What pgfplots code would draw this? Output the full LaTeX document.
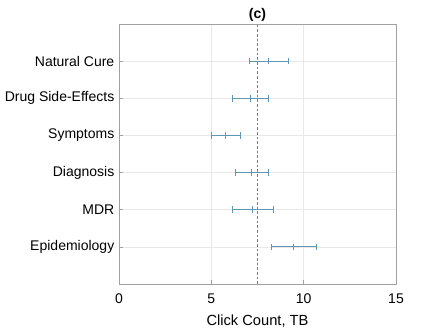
\documentclass[border=0pt]{standalone}
\usepackage{pgfplots}
\pgfplotsset{compat=1.18}
\usepackage{fontspec}
\setmainfont{Liberation Sans}
\definecolor{EB}{RGB}{95,150,180}
\definecolor{AX}{RGB}{160,160,160}
\definecolor{refmag}{RGB}{230,50,230}
\begin{document}
\begin{tikzpicture}
\path[use as bounding box] (-89.25pt,-33pt) rectangle (239.25pt,213pt);
\begin{axis}[
  at={(0,0)}, anchor=south west,
  scale only axis, width=207.75pt, height=195pt,
  xmin=0, xmax=15, ymin=0, ymax=7,
  xtick={0,5,10,15},
  ytick={1,2,3,4,5,6},
  yticklabels={Epidemiology,MDR,Diagnosis,Symptoms,Drug Side-Effects,Natural Cure},
  xlabel={Click Count, TB},
  title={\bfseries (c)},
  title style={font=\fontsize{10.5}{12}\selectfont, yshift=-7.5pt},
  ticklabel style={font=\fontsize{10.5}{12}\selectfont},
  xticklabel style={yshift=-4pt},
  label style={font=\fontsize{11}{13}\selectfont},
  /pgf/number format/assume math mode=true,
  xlabel style={yshift=-1pt},
  axis line style={AX, line width=0.7pt},
  tick style={AX, line width=0.5pt},
  major tick length=3pt,
  tick align=inside,
  xtick pos=bottom, ytick pos=left,
  grid=major, grid style={draw=gray!18, line width=0.4pt},
]
\addplot[refmag, line width=0.7pt, dash pattern=on 2pt off 1.5pt, mark=none, forget plot] coordinates {(7.5,0) (7.5,7)};
\addplot[EB, line width=0.7pt, mark=|, mark size=2.5pt,
  only marks,
  error bars/.cd, x dir=both, x explicit,
  error bar style={EB, line width=0.7pt},
  error mark options={EB, rotate=90, mark size=2.5pt, line width=0.7pt}]
  coordinates {
  (9.45,1) +- (1.22,0)
  (7.25,2) +- (1.12,0)
  (7.2,3) +- (0.88,0)
  (5.79,4) +- (0.78,0)
  (7.13,5) +- (0.98,0)
  (8.12,6) +- (1.08,0)
  };
\end{axis}
\end{tikzpicture}
\end{document}
